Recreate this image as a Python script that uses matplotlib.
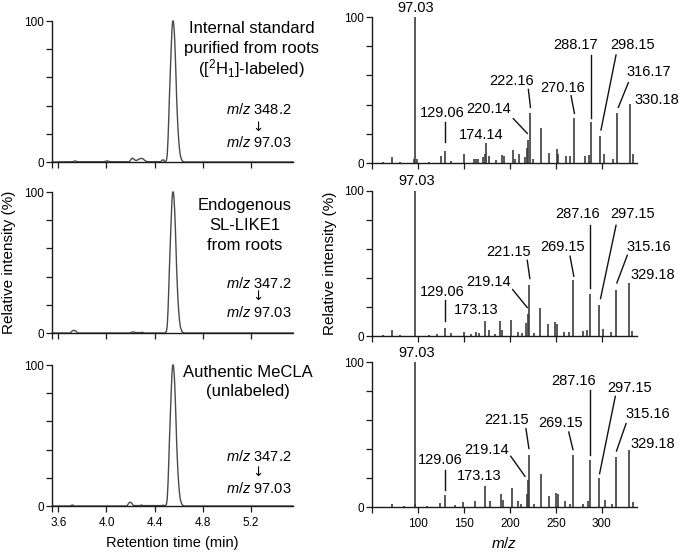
import matplotlib
matplotlib.use("Agg")
import matplotlib.pyplot as plt

plt.rcParams['font.family'] = ['Liberation Sans', 'DejaVu Sans']
plt.rcParams['mathtext.fontset'] = 'custom'
plt.rcParams['mathtext.rm'] = 'Liberation Sans'
plt.rcParams['mathtext.it'] = 'Liberation Sans:italic'
plt.rcParams['mathtext.bf'] = 'Liberation Sans:bold'

# ---------------- chromatogram data (retention time, relative intensity) -------------
peak_rt = [4.483, 4.498, 4.505, 4.512, 4.518, 4.523, 4.529, 4.534, 4.540, 4.545, 4.550,
           4.556, 4.561, 4.567, 4.573, 4.578, 4.583, 4.589, 4.594, 4.600, 4.607, 4.613,
           4.619, 4.628, 4.643]
peak_int = [0, 1, 5, 17, 32, 46, 60, 72, 85, 95, 100,
            100, 96, 87, 73, 60, 46, 33, 24, 16, 9, 5,
            3, 1, 0]

base_rt_top = [3.55, 3.72, 3.739, 3.76, 3.98, 4.007, 4.03, 4.19, 4.205, 4.215, 4.228,
               4.245, 4.26, 4.28, 4.301, 4.32, 4.34, 4.45, 4.465, 4.475, 4.68, 5.55]
base_int_top = [0, 0.2, 0.8, 0.2, 0.2, 0.8, 0.2, 0.2, 2.0, 2.8, 2.0,
                1.0, 1.5, 2.5, 2.5, 1.0, 0.2, 0.2, 1.5, 1.5, 0, 0]

base_rt_mid = [3.55, 3.70, 3.715, 3.73, 3.745, 3.76, 4.20, 4.21, 4.225, 4.24, 4.29,
               4.30, 4.31, 4.68, 5.55]
base_int_mid = [0, 0, 1.5, 1.9, 1.5, 0, 0, 0.7, 0.8, 0.3, 0.3,
                0.6, 0, 0, 0]

base_rt_bot = [3.55, 3.70, 3.716, 3.73, 4.17, 4.185, 4.196, 4.21, 4.225, 4.28, 4.29,
               4.30, 4.46, 4.47, 4.48, 4.68, 5.55]
base_int_bot = [0, 0, 0.8, 0, 0, 2.0, 2.8, 2.0, 0.3, 0.3, 0.8,
                0.3, 0.3, 0.6, 0.3, 0, 0]

rt_ticks = [3.6, 4.0, 4.4, 4.8, 5.2]
rt_ticklabels = ["3.6", "4.0", "4.4", "4.8", "5.2"]

titles_left = [["Internal standard", "purified from roots", r"([$^{2}$H$_{1}$]-labeled)"],
               ["Endogenous", "SL-LIKE1", "from roots"],
               ["Authentic MeCLA", "(unlabeled)"]]
precursors = ["348.2", "347.2", "347.2"]
products = ["97.03", "97.03", "97.03"]

# ---------------- MS/MS spectra data (m/z, relative intensity) ----------------
mz_top = [62, 71.3, 80, 95, 97.03, 98.5, 112, 124.4, 129.06, 136, 150.3, 161, 163, 165,
          171, 172.5, 174.14, 177.2, 185, 190.9, 193.4, 203, 205, 209.6, 216, 218,
          220.14, 222.16, 225, 234, 242.6, 251, 252.7, 261, 265, 270.16, 281.6,
          286, 288.17, 298.15, 302, 312, 316.17, 330.18, 334]
int_top = [1.0, 4.1, 1.0, 2.7, 100, 3.0, 1.0, 5.0, 8.4, 1.5, 6.4, 2.5, 3.0, 2.5,
           4.0, 6.0, 13.6, 5.0, 2.0, 5.5, 5.0, 9.0, 3.0, 6.4, 4.0, 10.0,
           16.0, 34.0, 3.0, 24.0, 6.8, 9.8, 6.0, 5.0, 4.5, 30.7, 5.0,
           5.5, 28.0, 18.6, 6.4, 3.0, 34.0, 40.5, 6.0]

mz_mid = [62, 71.3, 80, 97.03, 112, 120, 129.06, 136, 150, 158, 163, 166, 173.13, 177,
          184, 189.4, 191, 201, 208.6, 213.5, 217, 219.14, 221.15, 226.3, 233,
          241.7, 249.3, 251, 259, 264.4, 269.15, 280, 284.3, 287.16, 297.15, 301,
          310, 315.16, 329.18, 333]
int_mid = [1.0, 3.9, 1.0, 100, 1.0, 1.2, 5.5, 2.0, 3.0, 1.5, 2.5, 2.0, 10.3, 4.4,
           1.5, 10.3, 4.0, 11.3, 2.5, 2.0, 9.2, 15.4, 35.4, 2.3, 19.3,
           8.5, 9.9, 8.5, 2.8, 2.8, 38.4, 3.2, 3.9, 28.7, 21.4, 4.8,
           2.5, 32.0, 36.8, 3.4]

mz_bot = [71, 85, 96, 97.03, 110, 124, 129.06, 140, 148.5, 162, 173.13, 178.6, 190,
          192, 202, 208.7, 212, 218.5, 219.14, 221.15, 226, 234, 242.7, 250, 252,
          260, 265.6, 269.15, 280, 285.5, 287.16, 297.15, 303, 311.6, 315.16,
          329.18, 334]
int_bot = [1.8, 1.0, 1.8, 100, 1.0, 2.8, 8.0, 1.2, 3.4, 4.1, 14.5, 4.1, 8.7,
           5.0, 13.0, 4.1, 2.0, 8.7, 18.9, 36.0, 2.0, 22.5, 7.4, 9.9, 8.7,
           4.0, 2.3, 35.6, 1.8, 4.1, 32.6, 20.2, 5.0, 1.8, 34.5,
           39.5, 3.7]

mz_ticks = [100, 150, 200, 250, 300]

# annotation layout: (label, text x, text y, leader line (x0, y0, x1, y1) or None)
ann_top = [("97.03", 97.6, 106.4, None),
           ("129.06", 126.1, 34.0, (129.06, 28.3, 129.06, 14.6)),
           ("174.14", 168.2, 19.2, None),
           ("220.14", 176.4, 37.0, (203.6, 30.4, 218.8, 20.3)),
           ("222.16", 201.8, 56.0, (220.0, 50.4, 222.3, 38.1)),
           ("270.16", 257.2, 51.7, (266.5, 46.1, 270.2, 34.0)),
           ("288.17", 271.7, 80.8, (288.17, 74.0, 288.17, 30.6)),
           ("298.15", 333.4, 80.8, (315.5, 74.0, 299.1, 22.6)),
           ("316.17", 351.4, 62.5, (328.9, 55.0, 318.0, 38.1)),
           ("330.18", 359.6, 43.4, None)]
ann_mid = [("97.03", 98.5, 106.8, None),
           ("129.06", 126.1, 30.3, (129.06, 25.1, 129.06, 10.3)),
           ("173.13", 163.3, 17.7, None),
           ("219.14", 177.1, 37.0, (202.9, 32.0, 218.8, 19.6)),
           ("221.15", 198.7, 57.6, (218.8, 52.2, 221.6, 39.6)),
           ("269.15", 257.2, 61.4, (265.4, 55.0, 269.5, 41.2)),
           ("287.16", 274.0, 83.8, (287.16, 76.3, 287.16, 33.4)),
           ("297.15", 333.8, 83.8, (315.5, 76.3, 298.6, 25.8)),
           ("315.16", 351.6, 61.4, (327.8, 55.7, 316.4, 36.6)),
           ("329.18", 355.2, 41.9, None)]
ann_bot = [("97.03", 98.4, 106.2, None),
           ("129.06", 123.7, 32.4, (129.06, 25.8, 129.06, 12.0)),
           ("173.13", 166.2, 21.5, None),
           ("219.14", 174.6, 39.1, (200.8, 35.0, 216.3, 21.2)),
           ("221.15", 195.9, 59.8, (217.4, 54.0, 220.6, 40.3)),
           ("269.15", 255.3, 57.9, (264.0, 51.7, 268.6, 39.6)),
           ("287.16", 269.4, 86.7, (287.16, 81.0, 287.16, 35.7)),
           ("297.15", 330.7, 82.2, (314.7, 76.3, 297.6, 23.0)),
           ("315.16", 349.8, 63.9, (326.4, 57.5, 316.0, 38.6)),
           ("329.18", 355.2, 43.2, None)]

# ---------------- figure ----------------
fig = plt.figure(figsize=(6.8, 5.52), dpi=100)

left_pos = [[0.0769, 0.7065, 0.354, 0.2554],
            [0.0769, 0.3967, 0.354, 0.2554],
            [0.0769, 0.0833, 0.354, 0.2554]]
right_pos = [[0.5475, 0.7047, 0.3888, 0.2645],
             [0.5475, 0.3913, 0.3888, 0.2627],
             [0.5475, 0.0815, 0.3888, 0.2627]]

line_col = '#3c3c3c'
ytick_vals = [0, 20, 40, 60, 80, 100]
ytick_labs = ['0', '', '', '', '', '100']


def style_axes(ax):
    for s in ['top', 'right']:
        ax.spines[s].set_visible(False)
    for s in ['left', 'bottom']:
        ax.spines[s].set_linewidth(1.0)
        ax.spines[s].set_color('#1a1a1a')
    ax.tick_params(direction='out', length=4, width=0.9, color='#1a1a1a',
                   labelsize=8.5, pad=2)
    ax.tick_params(axis='x', pad=4)
    ax.set_ylim(0, 100)
    ax.set_yticks(ytick_vals)
    ax.set_yticklabels(ytick_labs)


bases = [(base_rt_top, base_int_top), (base_rt_mid, base_int_mid), (base_rt_bot, base_int_bot)]
for i in range(3):
    ax = fig.add_axes(left_pos[i])
    style_axes(ax)
    brt, bint = bases[i]
    pts = sorted(list(zip(brt, bint)) + list(zip(peak_rt, peak_int)))
    ax.plot([p[0] for p in pts], [p[1] for p in pts], color='#4a4a4a', lw=1.0,
            clip_on=False)
    ax.set_xlim(3.55, 5.55)
    ax.set_xticks([3.55] + rt_ticks)
    if i == 2:
        ax.set_xticklabels([''] + rt_ticklabels)
        ax.set_xlabel("Retention time (min)", fontsize=10.5, labelpad=5)
    else:
        ax.set_xticklabels([''] * (len(rt_ticks) + 1))
    if i == 1:
        ax.set_ylabel("Relative intensity (%)", fontsize=11)
        ax.yaxis.set_label_coords(-0.152, 0.5)
    # title text
    tys = [0.948, 0.806, 0.664] if i == 0 else ([0.908, 0.766, 0.624] if i == 1 else [0.945, 0.811])
    tx = [0.828, 0.80, 0.814][i]
    for line, ty in zip(titles_left[i], tys):
        ax.text(tx, ty, line, transform=ax.transAxes, ha='center', va='center',
                fontsize=12)
    my = [(0.376, 0.248, 0.135), (0.352, 0.262, 0.144), (0.35, 0.236, 0.125)][i]
    ax.text(0.856, my[0], r'$m/z$ ' + precursors[i], transform=ax.transAxes,
            ha='center', va='center', fontsize=10.5)
    ax.text(0.856, my[1], '\u2193', transform=ax.transAxes, ha='center', va='center',
            fontsize=9.5, family=['DejaVu Sans'])
    ax.text(0.856, my[2], r'$m/z$ ' + products[i], transform=ax.transAxes,
            ha='center', va='center', fontsize=10.5)

spectra = [(mz_top, int_top, ann_top), (mz_mid, int_mid, ann_mid), (mz_bot, int_bot, ann_bot)]
for i in range(3):
    ax = fig.add_axes(right_pos[i])
    style_axes(ax)
    mz, inten, ann = spectra[i]
    ax.vlines(mz, 0, inten, color=line_col, lw=1.2, clip_on=False)
    ax.set_xlim(50, 338)
    ax.set_xticks([50] + mz_ticks)
    if i == 2:
        ax.set_xticklabels([''] + [str(v) for v in mz_ticks])
        ax.set_xlabel(r'$m/z$', fontsize=11, labelpad=4)
    else:
        ax.set_xticklabels([''] * (len(mz_ticks) + 1))
    if i == 1:
        ax.set_ylabel("Relative intensity (%)", fontsize=11)
        ax.yaxis.set_label_coords(-0.134, 0.5)
    for lab, tx, ty, ln in ann:
        ax.text(tx, ty, lab, ha='center', va='center', fontsize=10.5, clip_on=False)
        if ln is not None:
            ax.plot([ln[0], ln[2]], [ln[1], ln[3]], color='#111111', lw=1.0,
                    clip_on=False)

fig.savefig("out.png", dpi=100)
